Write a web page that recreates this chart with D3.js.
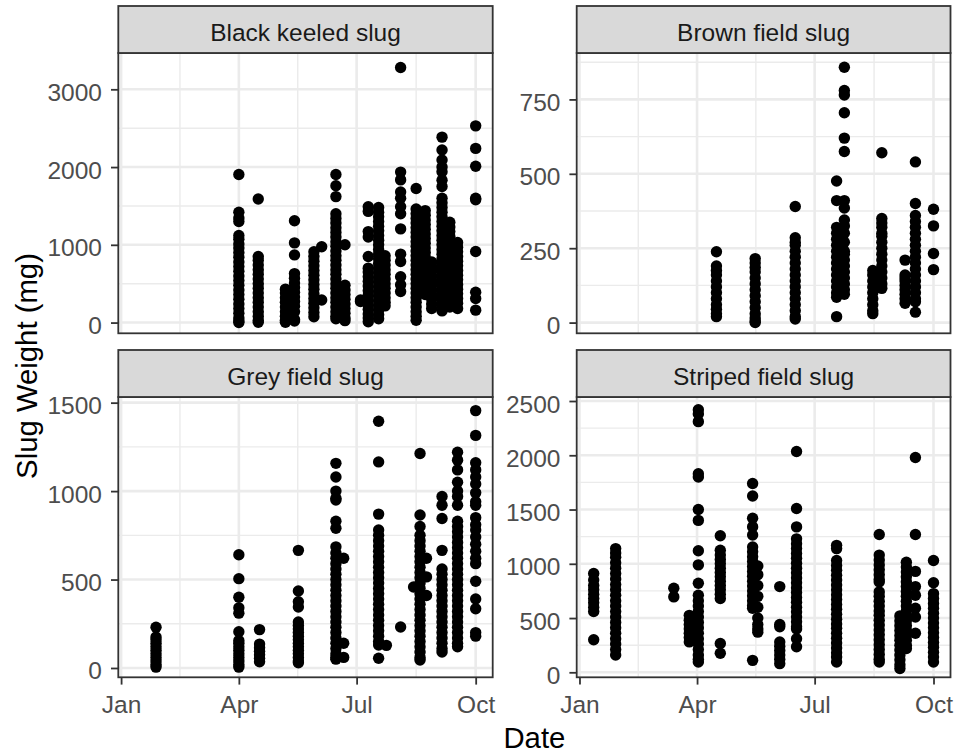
<!DOCTYPE html>
<html><head><meta charset="utf-8">
<script src="https://cdn.jsdelivr.net/npm/d3@7"></script>
<style>body{margin:0;background:#fff}svg{display:block}text{font-family:"Liberation Sans",Arial,sans-serif}</style>
</head><body><svg id="chart" width="956" height="753"></svg>
<script>
const YEAR = 2020;

// ---------- data (month-day of sampling, weights in mg) ----------
const blackDates = ["04-01","04-16","05-07","05-14","05-29","06-04","06-15","06-22","07-04","07-10","07-18","07-23","08-04","08-16","08-23","08-28","09-05","09-11","09-17","10-01"];
const blackWeights = [
  [1905,1420,1345,1300,1120,1070,1010,960,900,840,780,720,660,600,540,480,420,360,300,240,180,120,60,20,0],
  [1590,850,800,740,680,620,560,500,440,380,320,260,200,140,80,30,5],
  [430,380,320,260,200,140,80,30,5],
  [1310,1025,870,630,570,510,450,390,330,270,210,140,40,20],
  [910,850,790,730,670,610,550,490,430,370,310,250,190,130,75],
  [975,290],
  [1905,1760,1620,1400,1340,1280,1220,1160,1100,1040,980,920,860,800,740,680,620,560,500,440,380,320,260,200,140,80,50],
  [1000,480,420,360,300,240,180,120,60,25],
  [290,270],
  [1490,1430,1170,1100,850,700,650,590,530,470,410,350,290,230,170,110,60,10],
  [1480,1420,1360,1300,1240,1180,1120,1060,1000,940,880,820,760,700,640,580,520,460,400,340,280,220,160,100,50],
  [860,800,740,680,620,560,500,440,380,320,260,215],
  [3280,1935,1835,1680,1600,1490,1400,1205,880,785,590,485,400],
  [1725,1460,1400,1340,1280,1220,1160,1100,1040,980,920,860,800,740,680,620,560,500,440,380,320,260,200,140,80,30],
  [1440,1380,1320,1260,1200,1140,1080,1020,960,900,840,780,720,660,600,540,480,420,360],
  [780,720,660,600,540,480,420,360,300,240,180],
  [2385,2220,2090,2000,1940,1830,1750,1600,1540,1480,1420,1360,1300,1240,1180,1120,1060,1000,940,880,820,760,700,640,580,520,460,400,340,280,220,150],
  [1290,1230,1170,1110,1050,990,930,870,810,750,690,630,570,510,450,390,330,270,200],
  [1030,970,910,850,790,730,670,610,550,490,430,370,310,250,180],
  [2530,2240,2010,1600,1580,915,390,310,160]
];

const brownDates = ["04-16","05-16","06-16","07-18","07-24","08-15","08-22","09-09","09-17","10-01"];
const brownWeights = [
  [238,190,175,160,140,120,100,80,60,45,30,20],
  [215,200,185,170,150,130,110,90,70,50,30,15,5,0],
  [390,285,270,260,240,220,200,180,160,140,120,100,80,60,40,20,12],
  [476,410,320,300,280,260,240,220,200,180,160,140,120,100,85,20],
  [858,780,765,705,620,575,410,385,345,325,300,270,240,230,210,190,170,150,130,110,95],
  [175,160,140,120,100,80,60,40,30],
  [571,350,335,320,300,290,270,250,230,210,190,170,150,130,115],
  [210,160,150,140,125,110,95,80,65],
  [540,400,360,340,320,300,280,260,240,220,200,180,160,140,120,100,80,70,35],
  [381,325,232,178]
];

const greyDates = ["01-28","04-01","04-17","05-17","06-15","06-21","07-18","07-24","08-04","08-14","08-19","08-24","09-05","09-17","10-01"];
const greyWeights = [
  [230,175,160,140,120,100,80,60,40,20,5],
  [640,505,400,340,310,205,155,140,120,100,80,60,40,20,5],
  [217,135,115,95,75,55,35],
  [665,435,375,345,260,240,220,200,180,160,140,120,100,80,60,40,30],
  [1157,1080,1000,960,950,830,790,685,650,620,590,560,530,500,470,440,410,380,350,320,290,260,230,200,170,140,110,80,60,50],
  [620,140,60],
  [1395,1165,870,780,750,720,690,660,630,600,570,540,510,480,450,420,390,360,330,300,270,240,210,180,150,130,55],
  [128],
  [232],
  [458],
  [1213,865,800,750,720,690,660,630,600,570,540,510,480,450,420,390,360,330,300,270,240,210,180,150,120,90,60,45],
  [620,515,410],
  [970,920,845,665,560,530,500,470,440,410,380,350,320,290,260,230,200,170,140,110,90],
  [1220,1175,1120,1050,1000,970,920,830,800,770,740,710,680,650,620,590,560,530,500,470,440,410,380,350,320,290,260,230,200,170,140,120],
  [1455,1315,1160,1120,1080,1040,990,940,920,850,810,780,740,700,660,620,590,490,390,335,200,180]
];

const stripedDates = ["01-12","01-29","03-14","03-26","04-02","04-19","05-14","05-18","06-04","06-17","07-18","08-20","09-05","09-10","09-17","10-01"];
const stripedWeights = [
  [910,850,800,760,720,680,640,600,560,300],
  [1140,1100,1060,1010,960,910,860,810,760,710,660,610,560,510,460,410,360,310,260,210,160],
  [775,695],
  [525,480,440,400,360,320,280],
  [2420,2380,2310,1830,1800,1500,1400,1120,990,820,710,660,610,560,510,460,410,360,310,260,210,160,120,95],
  [1258,1125,1080,1040,1000,960,920,880,840,800,760,720,680,265,175],
  [1740,1625,1420,1340,1265,1155,1110,1065,1020,975,930,885,840,795,750,705,660,615,590,110],
  [980,900,800,700,600,500,440,400,370],
  [790,440,420,280,240,200,160,120,80],
  [2035,1510,1340,1230,1185,1140,1095,1050,1005,960,915,870,825,780,735,690,645,600,555,510,465,420,400,310,235],
  [1170,1140,1030,985,940,895,850,805,760,715,670,625,580,535,490,445,405,360,315,270,225,180,140,95],
  [1270,1080,1035,990,945,900,855,833,741,700,655,610,565,526,480,435,390,345,300,255,210,165,120,95],
  [520,475,430,385,340,295,250,205,160,115,70,35],
  [1015,970,925,880,835,790,745,700,655,610,565,520,475,430,385,340,295,250,220],
  [1980,1270,930,790,710,590,510,360],
  [1030,825,725,680,635,590,545,500,455,410,365,320,275,230,185,140,95]
];

const panelTitles = ["Black keeled slug","Brown field slug","Grey field slug","Striped field slug"];
const yTickLabels = [[0,1000,2000,3000],[0,250,500,750],[0,500,1000,1500],[0,500,1000,1500,2000,2500]];
const xTickLabels = ["Jan","Apr","Jul","Oct"];
const xTickMonths = [0,3,6,9];

// ---------- helpers ----------
const parseD = s => { const [m,d] = s.split("-").map(Number); return new Date(YEAR, m-1, d); };
const toRows = (dates, weights) => dates.flatMap((d,i) => weights[i].map(w => ({date: parseD(d), w})));
const panelData = [toRows(blackDates,blackWeights), toRows(brownDates,brownWeights), toRows(greyDates,greyWeights), toRows(stripedDates,stripedWeights)];
const yDomains = [[-138,3467],[-36,906],[-52.6,1532],[-46,2537]];

// ---------- layout ----------
const colX = [[118.3,492.7],[576.7,950.5]];
const stripTop = [6,350];
const stripH = 47;
const panelBottom = [333.3,677.3];
const FONT = 24.5;

const svg = d3.select("#chart");
svg.append("rect").attr("width",956).attr("height",753).attr("fill","#fff");

// shared x scale (ggplot 5% expansion)
const allDates = panelData.flat().map(d => d.date);
const [dMin, dMax] = d3.extent(allDates);
const span = dMax - dMin;
const xDomain = [new Date(+dMin - 0.05*span), new Date(+dMax + 0.05*span)];
const xMajor = xTickMonths.map(m => new Date(YEAR, m, 1));
const xMinor = d3.pairs(xMajor).map(([a,b]) => new Date((+a + +b)/2));

panelData.forEach((rows, i) => {
  const col = i % 2, row = Math.floor(i/2);
  const [x0, x1] = colX[col];
  const pTop = stripTop[row] + stripH, pBot = panelBottom[row];
  const x = d3.scaleTime().domain(xDomain).range([x0, x1]);
  const y = d3.scaleLinear().domain(yDomains[i]).range([pBot, pTop]);
  const g = svg.append("g");

  g.append("rect").attr("x",x0).attr("y",pTop).attr("width",x1-x0).attr("height",pBot-pTop).attr("fill","#fff");

  // minor grid
  const yMaj = yTickLabels[i];
  const step = yMaj[1]-yMaj[0];
  const yMin = d3.range(yMaj[0]-step/2, yMaj[yMaj.length-1]+step, step).filter(v => v>yDomains[i][0] && v<yDomains[i][1]);
  g.selectAll(null).data(yMin).join("line")
    .attr("x1",x0).attr("x2",x1).attr("y1",d=>y(d)).attr("y2",d=>y(d))
    .attr("stroke","#ebebeb").attr("stroke-width",1.4);
  g.selectAll(null).data(xMinor).join("line")
    .attr("x1",d=>x(d)).attr("x2",d=>x(d)).attr("y1",pTop).attr("y2",pBot)
    .attr("stroke","#ebebeb").attr("stroke-width",1.4);
  // major grid
  g.selectAll(null).data(yMaj).join("line")
    .attr("x1",x0).attr("x2",x1).attr("y1",d=>y(d)).attr("y2",d=>y(d))
    .attr("stroke","#ebebeb").attr("stroke-width",2.6);
  g.selectAll(null).data(xMajor.filter(d => x(d)>=x0 && x(d)<=x1)).join("line")
    .attr("x1",d=>x(d)).attr("x2",d=>x(d)).attr("y1",pTop).attr("y2",pBot)
    .attr("stroke","#ebebeb").attr("stroke-width",2.6);

  // points
  g.selectAll(null).data(rows).join("circle")
    .attr("cx",d=>x(d.date)).attr("cy",d=>y(d.w)).attr("r",5.7).attr("fill","#000");

  // panel border
  g.append("rect").attr("x",x0).attr("y",pTop).attr("width",x1-x0).attr("height",pBot-pTop)
    .attr("fill","none").attr("stroke","#333").attr("stroke-width",1.8);

  // strip
  g.append("rect").attr("x",x0).attr("y",stripTop[row]).attr("width",x1-x0).attr("height",stripH)
    .attr("fill","#d9d9d9").attr("stroke","#333").attr("stroke-width",1.8);
  g.append("text").attr("x",(x0+x1)/2).attr("y",stripTop[row]+35.3).attr("text-anchor","middle")
    .attr("font-size",FONT).attr("fill","#1a1a1a").text(panelTitles[i]);

  // y axis
  const ya = g.append("g").attr("transform",`translate(${x0},0)`)
    .call(d3.axisLeft(y).tickValues(yMaj).tickSize(7.3).tickPadding(9).tickFormat(d3.format("d")));
  ya.select(".domain").remove();
  ya.selectAll(".tick line").attr("stroke","#333").attr("stroke-width",1.8);
  ya.selectAll(".tick text").attr("font-size",FONT).attr("fill","#4d4d4d")
    .attr("font-family","'Liberation Sans',Arial,sans-serif").attr("dy",null).attr("y",11);

  // x axis only on bottom row
  if (row === 1) {
    const xa = g.append("g").attr("transform",`translate(0,${pBot})`)
      .call(d3.axisBottom(x).tickValues(xMajor).tickSize(7.3).tickPadding(5)
        .tickFormat((d,k) => xTickLabels[k]));
    xa.select(".domain").remove();
    xa.selectAll(".tick line").attr("stroke","#333").attr("stroke-width",1.8);
    xa.selectAll(".tick text").attr("font-size",FONT).attr("fill","#4d4d4d")
      .attr("font-family","'Liberation Sans',Arial,sans-serif").attr("dy",null).attr("y",36.2);
  }
});

// axis titles
svg.append("text").attr("x",534.4).attr("y",748).attr("text-anchor","middle")
  .attr("font-size",29.3).attr("fill","#000").text("Date");
svg.append("text").attr("transform","translate(36.7,366) rotate(-90)").attr("text-anchor","middle")
  .attr("font-size",29.3).attr("fill","#000").text("Slug Weight (mg)");
</script></body></html>
